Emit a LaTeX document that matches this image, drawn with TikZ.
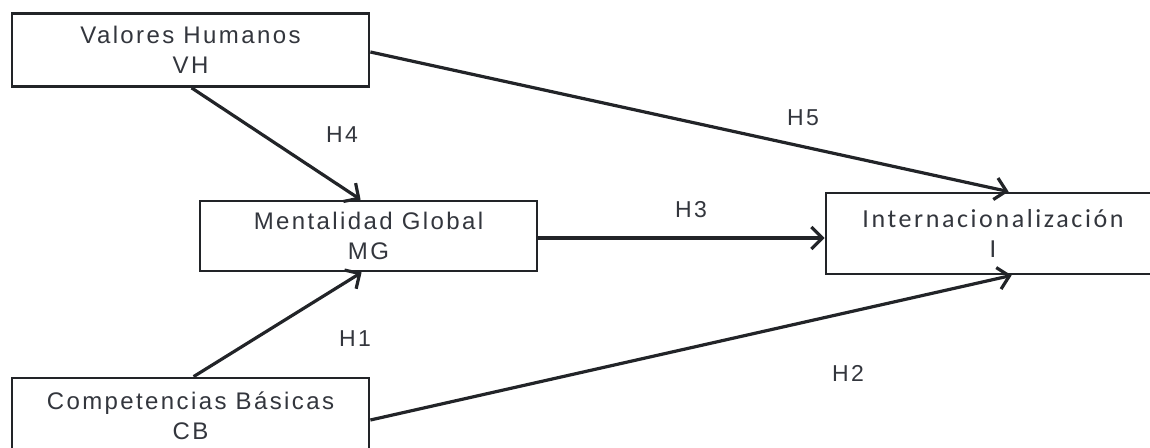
\documentclass[tikz,border=0pt]{standalone}
\usepackage{fontspec}
\setmainfont{Liberation Sans}[LetterSpace=10]
\newfontfamily\calfont{Carlito}[LetterSpace=10]
\usetikzlibrary{arrows.meta}
\definecolor{ink}{HTML}{222428}
\definecolor{txt}{HTML}{33363D}
\tikzset{
  box/.style={draw=ink, line width=2.8pt, fill=white, text=txt, align=center,
    inner sep=0pt, font=\fontsize{24}{30}\selectfont},
  conn/.style={draw=ink, line width=3.2pt,
    -{Straight Barb[length=11pt,width=22pt,line width=3.2pt]}},
  hlab/.style={text=txt, font=\fontsize{23}{24}\selectfont, inner sep=0pt}
}
\begin{document}
\begin{tikzpicture}[x=1pt,y=-1pt]
\useasboundingbox (0,0) rectangle (1150,447);
\node[box, minimum width=357pt, minimum height=73pt] (vh) at (190.5,50) {Valores Humanos\\VH};
\node[box, minimum width=337pt, minimum height=70pt] (mg) at (368.5,236) {Mentalidad Global\\MG};
\node[box, minimum width=334pt, minimum height=81pt, font=\calfont\fontsize{26}{30}\selectfont] (in) at (993,233.5) {Internacionalización\\I};
\node[box, minimum width=357pt, minimum height=76pt] (cb) at (190.5,416) {Competencias Básicas\\CB};

\draw[conn] ([xshift=181pt]vh.south west) -- ([xshift=162pt]mg.north west);
\draw[conn] ([yshift=-2pt]vh.east) -- ([xshift=184pt]in.north west);
\draw[conn] ([yshift=-2pt]mg.east) -- ([yshift=-2pt]mg.east -| in.west);
\draw[conn] ([xshift=183pt]cb.north west) -- ([xshift=163pt]mg.south west);
\draw[conn] ([yshift=-4pt]cb.east) -- ([xshift=187pt]in.south west);

\node[hlab] (h4) at (342,135) {H4};
\node[hlab] (h5) at (803,118) {H5};
\node[hlab] (h3) at (691,210) {H3};
\node[hlab] (h1) at (355,339) {H1};
\node[hlab] (h2) at (848,373) {H2};
\end{tikzpicture}
\end{document}
